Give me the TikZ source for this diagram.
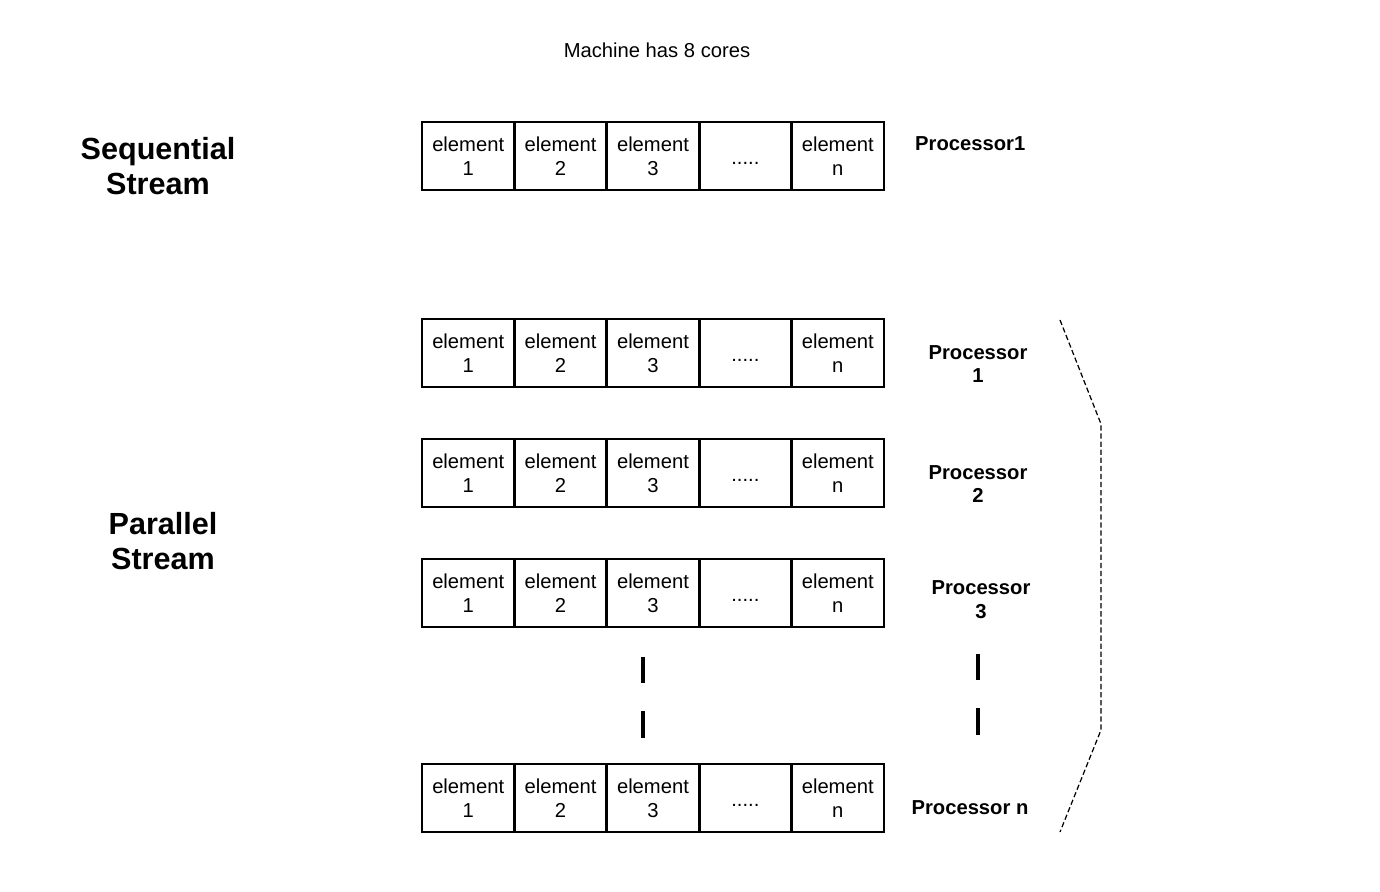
\documentclass[tikz,border=0pt]{standalone}
\usepackage{fontspec}
\setmainfont{Liberation Sans}
\usetikzlibrary{positioning}
\tikzset{
  x=0.02cm,
  y=-0.02cm,
  node distance=0pt,
  cell/.style={draw, line width=1.6pt, outer sep=0pt, inner sep=0pt,
    minimum width=1.848cm, minimum height=1.36cm, align=center,
    font=\fontsize{11.5}{13.6}\selectfont},
  proc/.style={align=center, font=\fontsize{11.5}{13.6}\selectfont\bfseries},
  title/.style={align=center, font=\fontsize{17.4}{19.8}\selectfont\bfseries},
  bar/.style={line width=2.4pt},
  brace/.style={line width=0.7pt, dash pattern=on 3pt off 1.6pt},
}
\begin{document}
\begin{tikzpicture}
  \useasboundingbox (0,0) rectangle (1380,892);

  % headings
  \node[font=\fontsize{11.5}{13.6}\selectfont] (cores) at (657,50) {Machine has 8 cores};
  \node[title] (seq) at (158,166) {Sequential\\Stream};
  \node[title] (par) at (163,541) {Parallel\\Stream};

  % element rows
  \foreach \r/\y in {s/156, pa/353, pb/473, pc/593, pn/798} {
    \node[cell] (\r1) at (468.2,\y) {element\\1};
    \node[cell, right=of \r1] (\r2) {element\\2};
    \node[cell, right=of \r2] (\r3) {element\\3};
    \node[cell, right=of \r3] (\r4) {\raisebox{-4.8pt}[0pt][0pt]{.....}};
    \node[cell, right=of \r4] (\r5) {element\\n};
  }

  % processors
  \node[proc, anchor=west] (ps) at (909,144) {Processor1};
  \node[proc] (pra) at (978,364) {Processor\\1};
  \node[proc] (prb) at (978,484) {Processor\\2};
  \node[proc] (prc) at (981,600) {Processor\\3};
  \node[proc] (prn) at (970,808) {Processor n};

  % gaps
  \draw[bar] (643,657) -- (643,683) (643,711) -- (643,738);
  \draw[bar] (978,654) -- (978,680) (978,708) -- (978,735);

  % brace
  \coordinate (b1) at (1060,320);
  \coordinate (b2) at (1101,424);
  \coordinate (b3) at (1101,730);
  \coordinate (b4) at (1060,832);
  \draw[brace] (b1) -- (b2) -- (b3) -- (b4);
\end{tikzpicture}
\end{document}
